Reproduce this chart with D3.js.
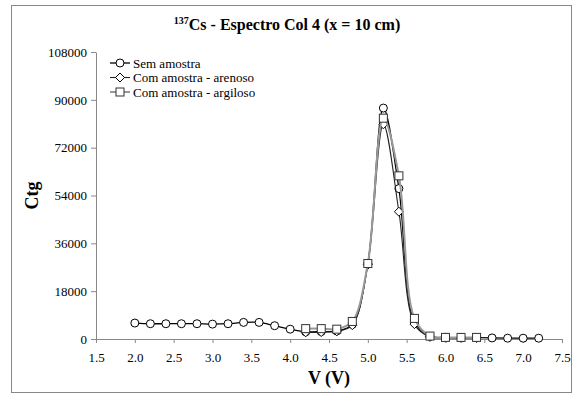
<!DOCTYPE html>
<html>
<head>
<meta charset="utf-8">
<script src="https://cdn.jsdelivr.net/npm/d3@7"></script>
<style>
  html, body { margin: 0; padding: 0; background: #fff; }
  svg { display: block; }
</style>
</head>
<body>
<svg id="chart" width="574" height="396"></svg>
<script>
// Channel voltage (V) and counts for each measurement
const vSem = [2.0, 2.2, 2.4, 2.6, 2.8, 3.0, 3.2, 3.4, 3.6, 3.8, 4.0, 4.2, 4.4, 4.6,
              4.8, 5.0, 5.2, 5.4, 5.6, 5.8, 6.0, 6.2, 6.4, 6.6, 6.8, 7.0, 7.2];
const semAmostra = [6000, 5750, 5750, 5750, 5750, 5600, 5750, 6250, 6250, 5000, 3700, 2700, 2800, 3000,
                    5500, 28400, 86900, 56600, 6500, 1000, 600, 500, 500, 400, 300, 300, 300];
const vAmostra = [4.2, 4.4, 4.6, 4.8, 5.0, 5.2, 5.4, 5.6, 5.8, 6.0, 6.2, 6.4];
const arenoso  = [2500, 2600, 2900, 5200, 28000, 80800, 47900, 5600, 800, 500, 400, 400];
const argiloso = [3900, 3900, 3700, 6600, 28400, 83100, 61400, 7750, 1100, 600, 600, 600];

const xTicks = [1.5, 2.0, 2.5, 3.0, 3.5, 4.0, 4.5, 5.0, 5.5, 6.0, 6.5, 7.0, 7.5];
const yTicks = [0, 18000, 36000, 54000, 72000, 90000, 108000];

const seriesNames = ["Sem amostra", "Com amostra - arenoso", "Com amostra - argiloso"];

const series = [
  { name: seriesNames[0], xs: vSem, ys: semAmostra, marker: "circle", line: "#000", width: 1.3 },
  { name: seriesNames[1], xs: vAmostra, ys: arenoso, marker: "diamond", line: "#222", width: 1.1 },
  { name: seriesNames[2], xs: vAmostra, ys: argiloso, marker: "square", line: "#999", width: 2 }
];

const FONT = "Liberation Serif";
const svg = d3.select("#chart").attr("font-family", FONT);

// outer frame
svg.append("rect")
  .attr("x", 11.5).attr("y", 5.5).attr("width", 560).attr("height", 387)
  .attr("fill", "#fff").attr("stroke", "#888").attr("stroke-width", 1);

const x = d3.scaleLinear().domain([1.5, 7.5]).range([96, 562]);
const y = d3.scaleLinear().domain([0, 108000]).range([339, 52]);

// axes
const xAxis = svg.append("g").attr("transform", `translate(0,${y(0)})`)
  .call(d3.axisBottom(x).tickValues(xTicks).tickFormat(d3.format(".1f")).tickSizeInner(4).tickSizeOuter(0));
const yAxis = svg.append("g").attr("transform", `translate(${x(1.5)},0)`)
  .call(d3.axisLeft(y).tickValues(yTicks).tickFormat(d3.format("d")).tickSizeInner(5).tickSizeOuter(0));

[xAxis, yAxis].forEach(g => {
  g.attr("font-family", FONT).attr("font-size", 13);
  g.select(".domain").attr("stroke", "#888");
  g.selectAll(".tick line").attr("stroke", "#888");
  g.selectAll(".tick text").attr("fill", "#000").attr("font-family", FONT);
});
xAxis.selectAll(".tick text").attr("dy", "1.25em");
yAxis.selectAll(".tick text").attr("x", -9);

// titles
const title = svg.append("text").attr("x", 287).attr("y", 30).attr("text-anchor", "middle")
  .attr("font-family", FONT).attr("font-weight", "bold").attr("font-size", 16);
title.append("tspan").attr("font-size", 10).attr("dy", "-6").text("137");
title.append("tspan").attr("dy", "6").text("Cs - Espectro Col 4 (x = 10 cm)");

svg.append("text").attr("x", 329).attr("y", 384).attr("text-anchor", "middle")
  .attr("font-family", FONT).attr("font-weight", "bold").attr("font-size", 18).text("V (V)");

svg.append("text").attr("transform", `translate(38,${(y(0) + y(108000)) / 2}) rotate(-90)`)
  .attr("text-anchor", "middle").attr("font-family", FONT)
  .attr("font-weight", "bold").attr("font-size", 18).text("Ctg");

function drawMarker(g, type, cx, cy) {
  if (type === "circle") {
    g.append("circle").attr("cx", cx).attr("cy", cy).attr("r", 4)
      .attr("fill", "#fff").attr("stroke", "#000").attr("stroke-width", 1);
  } else if (type === "diamond") {
    const s = 4.5;
    g.append("path").attr("d", `M${cx},${cy - s}L${cx + s},${cy}L${cx},${cy + s}L${cx - s},${cy}Z`)
      .attr("fill", "#fff").attr("stroke", "#000").attr("stroke-width", 1);
  } else {
    g.append("rect").attr("x", cx - 4).attr("y", cy - 4).attr("width", 8).attr("height", 8)
      .attr("fill", "#fff").attr("stroke", "#333").attr("stroke-width", 1);
  }
}

const lineGen = d3.line().curve(d3.curveCatmullRom.alpha(0.5));

// lines first, then markers on top (last series drawn over earlier ones)
series.forEach(s => {
  const pts = s.xs.map((v, i) => [x(v), y(s.ys[i])]);
  const g = svg.append("g");
  g.append("path").attr("d", lineGen(pts)).attr("fill", "none")
    .attr("stroke", s.line).attr("stroke-width", s.width);
  pts.forEach(p => drawMarker(g, s.marker, p[0], p[1]));
});

// legend
const legend = svg.append("g");
series.forEach((s, i) => {
  const ly = 63 + i * 14.5;
  legend.append("line").attr("x1", 110).attr("x2", 130).attr("y1", ly).attr("y2", ly)
    .attr("stroke", s.line).attr("stroke-width", s.width);
  drawMarker(legend, s.marker, 120, ly);
  legend.append("text").attr("x", 133).attr("y", ly + 4.5)
    .attr("font-family", FONT).attr("font-size", 13).text(s.name);
});
</script>
</body>
</html>
